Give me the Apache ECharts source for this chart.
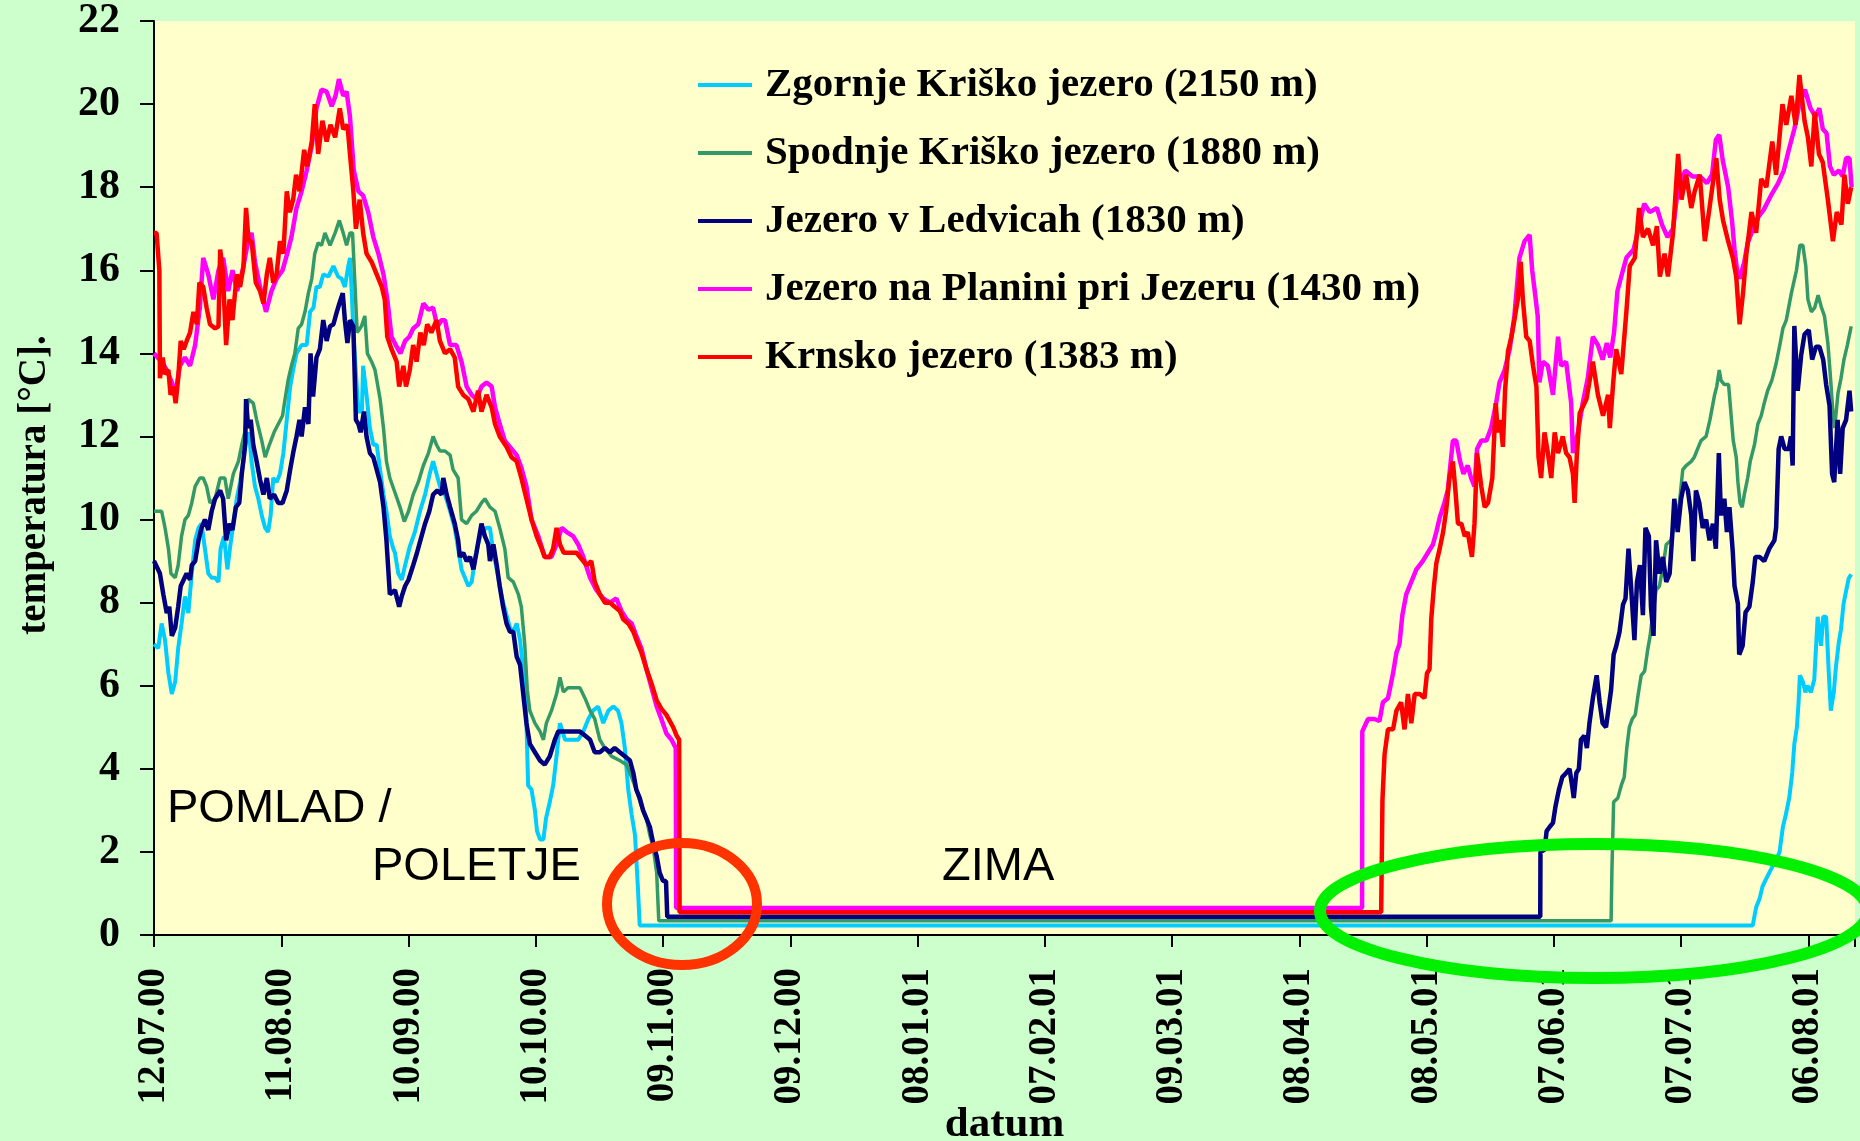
<!DOCTYPE html>
<html>
<head>
<meta charset="utf-8">
<title>Temperatura jezer</title>
<script src="https://cdn.jsdelivr.net/npm/echarts@6/dist/echarts.min.js"></script>
<style>
  html, body { margin: 0; padding: 0; background: #ccffcc; }
  #chart { width: 1860px; height: 1141px; }
</style>
</head>
<body>
<div id="chart"></div>
<script>
// x = dni od 12.07.2000, y = temperatura v °C (odčitano z grafa)
const tickLabels = ['12.07.00', '11.08.00', '10.09.00', '10.10.00', '09.11.00', '09.12.00', '08.01.01',
  '07.02.01', '09.03.01', '08.04.01', '08.05.01', '07.06.01', '07.07.01', '06.08.01'];

const seriesNames = ['Zgornje Kriško jezero (2150 m)', 'Spodnje Kriško jezero (1880 m)',
  'Jezero v Ledvicah (1830 m)', 'Jezero na Planini pri Jezeru (1430 m)', 'Krnsko jezero (1383 m)'];
const seriesColors = ['#00ccff', '#339966', '#000080', '#ff00ff', '#ff0000'];

const zgornje = [[0,7.0],[1.0,6.9],[1.8,7.5],[2.6,7.1],[3.4,6.3],[4.2,5.8],[5.0,6.1],[5.7,6.9],[6.5,7.5],[7.3,8.15],
  [8.1,7.75],[8.9,8.7],[9.7,9.5],[10.5,9.8],[11.2,9.9],[12.0,9.3],[12.8,8.7],[13.6,8.6],[14.4,8.6],[15.2,8.5],
  [15.7,9.3],[16.5,9.6],[17.3,8.8],[17.9,9.3],[18.7,9.9],[19.5,10.5],[20.3,10.9],[21.1,11.4],[21.5,11.8],[22.4,12.1],
  [23.0,11.4],[23.8,10.8],[24.6,10.5],[25.4,10.1],[26.2,9.8],[26.9,9.7],[27.5,10.1],[28.1,11.0],[28.9,10.9],[29.7,11.1],
  [30.5,11.6],[31.3,12.4],[32.1,13.2],[32.8,13.6],[33.6,14.0],[34.8,14.2],[36.0,14.2],[36.8,15.0],[37.6,15.1],[38.3,15.6],
  [39.1,15.6],[39.9,15.9],[41.1,15.85],[42.3,16.1],[43.4,15.85],[44.2,15.8],[45.0,15.6],[45.8,16.1],[46.2,16.3],[46.6,15.5],
  [47.1,14.3],[48.2,12.6],[49.0,12.6],[49.3,13.7],[50.1,13.0],[50.9,12.2],[51.7,11.8],[52.5,11.8],[53.3,11.2],[54.1,10.6],
  [54.8,10.2],[55.6,9.6],[56.4,9.3],[56.8,9.2],[57.6,8.7],[58.4,8.55],[59.2,8.9],[60.3,9.35],[61.5,9.7],[62.7,10.2],
  [63.9,10.6],[65.0,11.1],[65.8,11.4],[66.6,11.1],[67.4,10.8],[68.6,10.6],[69.8,10.2],[70.9,9.8],[71.7,9.3],[72.5,8.8],
  [73.3,8.6],[74.1,8.4],[74.9,8.5],[75.6,9.0],[76.4,9.4],[77.2,9.7],[78.4,9.8],[79.2,9.8],[80.0,9.2],[80.8,8.8],
  [81.5,8.4],[82.3,8.0],[83.1,7.7],[83.9,7.4],[84.7,7.3],[85.5,7.5],[86.3,7.1],[87.0,6.4],[87.7,5.5],[88.2,3.6],
  [89.0,3.5],[89.8,3.0],[90.3,2.5],[91.0,2.3],[91.8,2.3],[92.4,2.8],[93.3,3.2],[94.1,3.6],[94.9,4.3],[95.7,5.1],
  [96.9,4.7],[98.4,4.7],[100.0,4.7],[101.2,4.9],[102.4,5.2],[103.5,5.4],[104.7,5.5],[105.9,5.1],[107.1,5.4],[108.3,5.5],
  [109.4,5.4],[110.2,5.1],[111.0,4.5],[111.8,3.5],[112.6,2.9],[113.4,2.4],[114.1,1.1],[114.5,0.23],[376.9,0.23],[377.7,0.67],
  [378.5,0.87],[379.2,1.17],[380.2,1.38],[381.2,1.58],[382.2,1.78],[383.2,1.99],[384.0,2.6],[384.7,2.9],[385.5,3.3],[386.2,3.9],
  [386.7,4.6],[387.3,5.0],[387.7,5.6],[388.0,6.25],[388.7,6.1],[389.3,5.84],[389.8,6.0],[390.6,5.84],[391.4,6.15],[392.2,7.66],
  [393.0,6.96],[393.5,7.66],[394.2,7.66],[394.8,6.35],[395.3,5.4],[396.0,5.84],[396.5,6.45],[397.2,7.06],[397.7,7.36],[398.3,7.97],
  [398.9,8.28],[399.5,8.58],[400.1,8.68]];

const spodnje = [[0,10.2],[1.8,10.2],[2.6,9.8],[3.4,9.3],[4.0,8.7],[5.0,8.6],[5.7,8.9],[6.5,9.6],[7.3,10.0],[8.1,10.1],
  [8.9,10.4],[9.7,10.8],[10.8,11.0],[11.6,11.0],[12.4,10.8],[13.2,10.4],[14.4,10.5],[15.6,11.0],[16.7,11.0],[17.5,10.5],
  [18.7,11.1],[19.9,11.4],[20.7,11.8],[21.4,12.1],[22.2,12.9],[23.4,12.8],[24.2,12.4],[25.4,11.9],[26.2,11.5],[27.2,11.8],
  [28.3,12.1],[29.3,12.3],[30.3,12.5],[30.9,12.9],[31.7,13.4],[32.4,13.7],[33.2,14.0],[34.0,14.6],[34.8,14.7],[35.6,15.0],
  [36.4,15.45],[37.2,15.8],[37.9,16.4],[38.7,16.66],[39.5,16.6],[40.3,16.9],[41.5,16.6],[42.7,16.9],[43.7,17.2],[44.6,16.9],
  [45.4,16.6],[46.2,16.9],[46.8,16.9],[47.4,15.6],[47.9,14.5],[48.9,14.65],[49.7,14.9],[50.3,14.0],[51.3,13.8],[52.1,13.6],
  [53.3,12.9],[54.1,12.2],[54.8,11.4],[55.6,11.0],[56.8,10.65],[58.0,10.3],[59.0,9.95],[60.0,10.2],[61.1,10.6],[62.3,10.9],
  [63.5,11.3],[64.7,11.6],[65.8,12.0],[66.6,11.8],[67.4,11.65],[68.6,11.65],[69.8,11.55],[70.5,11.2],[71.7,11.0],[72.5,10.0],
  [73.7,9.9],[74.9,10.1],[76.0,10.2],[77.2,10.4],[78.0,10.5],[79.2,10.3],[80.4,10.2],[81.5,9.8],[82.7,9.3],[83.5,8.6],
  [84.7,8.5],[85.9,8.2],[86.6,7.9],[87.4,7.0],[88.0,5.9],[88.6,5.4],[89.8,5.1],[91.0,4.9],[91.8,4.7],[92.5,5.1],
  [93.7,5.4],[94.9,5.8],[95.7,6.2],[96.5,5.85],[97.6,5.95],[98.8,5.95],[100.4,5.95],[101.6,5.7],[102.8,5.4],[103.9,5.2],
  [105.1,4.7],[106.3,4.5],[107.9,4.3],[109.8,4.2],[111.4,4.1],[112.6,3.8],[113.7,3.5],[114.9,3.1],[116.1,2.8],[116.9,2.4],
  [117.7,2.1],[118.5,1.5],[119.0,0.34],[343.5,0.34],[343.7,1.58],[344.1,3.2],[345.1,3.3],[345.9,3.6],[346.6,3.8],[347.2,4.5],
  [347.8,5.0],[348.5,5.2],[349.2,5.3],[349.9,5.8],[350.6,6.25],[351.4,6.35],[352.1,6.85],[352.7,7.2],[353.3,7.7],[354.1,8.3],
  [354.9,8.4],[355.8,8.9],[356.5,9.4],[357.6,9.5],[358.7,10.0],[359.6,10.4],[360.4,11.2],[361.2,11.3],[362.4,11.4],[363.1,11.5],
  [363.9,11.7],[364.7,11.9],[365.9,12.0],[366.8,12.4],[367.9,13.0],[368.4,13.2],[369.0,13.6],[369.4,13.35],[370.2,13.25],[371.2,13.25],
  [371.8,12.5],[372.3,11.9],[373.0,11.5],[373.4,10.9],[373.9,10.4],[374.4,10.3],[374.9,10.6],[375.7,11.0],[376.3,11.4],[377.3,11.8],
  [378.1,12.3],[378.9,12.5],[379.6,12.8],[380.4,13.1],[381.4,13.35],[382.4,13.75],[383.2,14.16],[384.0,14.6],[384.8,14.8],[386.0,15.45],
  [387.2,16.0],[388.0,16.6],[388.7,16.6],[389.4,16.1],[389.9,15.3],[390.7,15.0],[391.5,15.1],[392.3,15.4],[393.1,15.1],[393.8,14.9],
  [394.6,14.25],[395.2,13.45],[395.8,12.56],[396.2,12.2],[397.0,13.05],[397.7,13.4],[398.4,13.85],[399.2,14.2],[400.1,14.65]];

const ledvice = [[0,9.0],[1.4,8.7],[2.2,8.2],[3.0,7.75],[3.6,7.9],[4.2,7.2],[5.0,7.4],[5.7,7.9],[6.3,8.4],[7.0,8.55],
  [7.7,8.7],[8.5,8.55],[8.9,8.9],[9.7,9.0],[10.5,9.5],[11.2,9.8],[12.0,10.0],[12.8,9.75],[13.6,10.2],[14.4,10.5],
  [15.6,10.7],[16.3,10.5],[17.0,9.5],[17.8,9.9],[18.5,9.75],[19.3,10.3],[20.1,10.4],[20.7,11.1],[21.5,11.8],[21.7,12.9],
  [22.2,12.2],[22.8,12.4],[23.4,11.8],[24.2,11.4],[25.0,10.96],[25.8,10.6],[26.6,11.0],[27.3,10.5],[28.3,10.6],[29.3,10.4],
  [30.3,10.4],[31.3,10.7],[32.1,11.2],[32.8,11.6],[33.6,12.0],[34.3,12.4],[34.8,12.0],[35.6,12.7],[36.4,12.3],[36.9,14.0],
  [37.5,12.96],[38.3,13.9],[39.1,14.1],[39.9,14.8],[40.7,14.3],[41.5,14.65],[42.3,14.7],[43.1,15.0],[43.7,15.2],[44.5,15.45],
  [45.0,14.8],[45.6,14.25],[46.2,14.8],[47.0,14.65],[47.6,12.4],[48.2,12.3],[48.7,12.1],[49.5,12.6],[50.1,12.0],[50.9,11.6],
  [51.7,11.5],[52.5,11.2],[53.3,10.9],[54.1,10.3],[54.8,9.5],[55.6,8.2],[56.8,8.3],[57.8,7.9],[58.4,8.15],[59.2,8.4],
  [60.0,8.55],[61.1,8.9],[62.0,9.2],[62.8,9.5],[63.9,9.9],[64.9,10.2],[65.8,10.6],[66.8,10.7],[67.8,10.6],[68.2,11.0],
  [69.0,10.6],[69.8,10.3],[70.9,9.9],[71.7,9.5],[72.1,9.1],[72.9,9.2],[73.7,9.0],[74.5,9.1],[75.3,8.8],[76.0,9.2],
  [77.2,9.9],[78.0,9.6],[78.8,9.4],[79.2,9.0],[80.0,9.4],[80.8,8.9],[81.5,8.4],[82.3,7.9],[83.1,7.5],[83.9,7.3],
  [84.7,7.3],[85.5,6.7],[86.3,6.5],[87.0,5.85],[87.8,5.1],[88.6,4.6],[89.8,4.4],[91.0,4.2],[92.1,4.1],[93.3,4.3],
  [94.5,4.7],[95.3,4.9],[96.5,4.9],[97.6,4.9],[98.8,4.9],[100.4,4.9],[101.6,4.8],[102.8,4.7],[103.9,4.4],[105.1,4.4],
  [106.3,4.5],[107.5,4.4],[108.6,4.5],[109.8,4.4],[111.0,4.3],[112.2,4.2],[113.0,3.9],[113.7,3.5],[114.5,3.3],[115.3,3.0],
  [116.1,2.8],[116.9,2.6],[117.7,2.2],[118.5,1.9],[119.2,1.5],[120.0,1.3],[120.7,1.3],[121.0,0.44],[326.8,0.44],[326.85,2.0],
  [327.8,2.05],[328.3,2.5],[329.0,2.6],[329.8,2.7],[330.4,3.1],[331.2,3.5],[332.0,3.8],[332.9,3.9],[333.7,4.0],[334.3,3.6],
  [334.7,3.3],[335.3,3.9],[335.9,4.0],[336.4,4.7],[337.2,4.8],[337.8,4.5],[338.4,5.1],[339.2,5.7],[340.1,6.25],[340.8,5.6],
  [341.5,5.1],[342.3,5.0],[343.1,5.6],[343.5,5.9],[344.1,6.75],[344.7,6.95],[345.5,7.3],[346.3,7.95],[346.9,8.1],[347.6,9.3],
  [348.2,8.4],[349.0,7.1],[349.6,8.5],[350.3,8.9],[351.0,7.7],[351.6,9.8],[352.4,9.6],[352.9,7.9],[353.5,7.2],[354.1,9.5],
  [354.9,8.7],[355.7,9.1],[356.5,8.5],[357.3,8.7],[357.9,9.6],[358.4,10.5],[359.2,9.7],[360.0,10.5],[360.8,10.9],[361.6,10.7],
  [362.4,10.1],[362.9,9.0],[363.5,10.7],[364.3,10.4],[365.1,9.8],[365.9,10.0],[366.7,9.5],[367.5,9.9],[368.2,9.3],[368.9,11.6],
  [369.4,10.1],[370.2,10.5],[370.8,9.7],[371.4,10.3],[372.2,9.2],[372.6,8.4],[373.4,7.97],[373.7,6.75],[374.5,6.96],[375.2,7.77],
  [376.1,7.9],[376.9,8.5],[377.5,9.1],[378.5,9.1],[379.6,9.0],[380.8,9.3],[382.0,9.5],[382.4,9.8],[383.0,11.7],[383.6,12.0],
  [384.4,11.7],[385.4,11.7],[385.9,12.0],[386.3,11.3],[386.7,14.66],[387.5,13.1],[388.3,13.95],[389.1,14.46],[390.1,14.56],[390.9,13.85],
  [391.8,14.16],[392.6,14.16],[393.5,13.85],[394.2,13.25],[395.0,12.74],[395.6,11.1],[396.1,10.9],[396.9,12.4],[397.5,11.1],[398.1,12.2],
  [398.9,12.4],[399.7,13.1],[400.1,12.6]];

const planina = [[0,14.0],[1.8,13.8],[3.0,13.6],[4.2,13.3],[5.0,13.0],[6.1,13.7],[7.3,13.9],[8.5,13.7],[9.7,14.2],[10.8,15.1],
  [11.6,16.3],[12.8,15.9],[14.0,15.3],[15.2,16.0],[16.3,16.3],[17.5,15.5],[18.5,16.0],[19.6,15.5],[20.9,16.0],[22.0,16.6],
  [23.0,16.9],[23.8,16.2],[25.0,15.6],[26.4,15.0],[27.7,15.5],[28.9,15.8],[30.3,16.0],[31.4,16.4],[32.4,16.8],[33.6,17.5],
  [34.8,17.9],[36.0,18.4],[37.2,19.0],[38.3,19.9],[39.5,20.35],[40.7,20.3],[41.9,19.95],[42.8,20.2],[43.6,20.6],[44.6,20.2],
  [45.4,20.3],[46.2,19.7],[47.1,18.4],[48.2,17.9],[49.3,17.8],[50.5,17.4],[51.7,16.8],[52.9,16.4],[54.1,15.9],[55.0,15.3],
  [56.0,14.4],[57.0,14.2],[58.1,14.0],[59.2,14.3],[60.2,14.4],[61.1,14.6],[62.3,14.7],[63.5,15.2],[64.7,15.05],[65.8,15.1],
  [66.8,14.65],[67.8,14.8],[68.6,14.8],[69.8,14.2],[71.3,14.2],[72.5,13.8],[73.7,13.2],[74.9,13.0],[76.0,12.9],[77.2,13.2],
  [78.4,13.3],[79.6,13.2],[80.4,12.7],[81.5,12.3],[82.7,11.9],[83.9,11.75],[85.5,11.55],[86.6,11.25],[87.8,10.8],[89.0,10.0],
  [90.6,9.6],[92.1,9.1],[93.7,9.1],[94.9,9.4],[96.1,9.8],[97.3,9.7],[98.8,9.6],[100.0,9.4],[101.2,9.1],[102.8,8.6],
  [104.3,8.3],[105.9,8.1],[107.5,8.0],[109.0,8.1],[110.2,7.8],[111.4,7.6],[112.6,7.5],[113.7,7.2],[114.9,6.9],[116.1,6.4],
  [117.3,5.95],[118.5,5.5],[119.6,5.2],[120.8,4.85],[122.0,4.7],[123.0,4.5],[123.1,0.65],[284.8,0.65],[284.85,4.9],[286.2,5.2],
  [287.7,5.2],[288.9,5.15],[289.7,5.6],[290.9,5.7],[292.1,6.3],[292.9,6.8],[293.6,7.0],[294.3,7.7],[295.2,8.2],[296.4,8.5],
  [297.6,8.8],[299.1,9.0],[300.3,9.2],[301.5,9.4],[302.3,9.7],[303.1,10.05],[304.2,10.4],[305.0,10.7],[306.2,11.9],[307.0,11.9],
  [307.9,11.4],[308.7,11.1],[309.7,11.3],[310.5,11.0],[311.3,10.8],[311.9,11.7],[312.9,11.9],[314.1,11.9],[315.2,12.2],[316.4,12.8],
  [317.2,13.3],[318.4,13.6],[319.6,14.1],[320.7,14.9],[321.9,16.3],[323.1,16.7],[324.3,16.85],[324.9,16.0],[325.5,15.5],[326.2,14.9],
  [326.6,13.3],[327.4,13.8],[328.6,13.7],[329.8,13.0],[331.0,14.4],[331.7,13.7],[332.9,13.8],[334.1,12.8],[334.5,11.6],[335.7,12.1],
  [336.8,12.8],[338.0,13.4],[339.2,14.4],[340.4,14.2],[341.5,13.85],[342.5,14.25],[343.3,13.9],[344.2,14.5],[345.0,15.5],[345.9,15.85],
  [347.1,16.3],[348.8,16.5],[350.1,17.06],[351.3,17.6],[352.6,17.4],[354.3,17.5],[355.5,17.1],[356.8,16.8],[358.1,17.0],[359.3,18.0],
  [361.0,18.4],[362.7,18.26],[364.4,18.26],[366.1,18.1],[367.3,18.3],[368.2,19.14],[369.0,19.26],[369.8,18.66],[371.1,18.0],[372.0,17.2],
  [372.6,16.5],[373.2,16.0],[373.8,15.8],[374.9,16.2],[375.7,16.66],[377.0,17.0],[378.3,17.3],[379.5,17.46],[381.2,17.8],[382.9,18.1],
  [384.2,18.4],[385.4,18.9],[386.7,19.4],[387.9,20.0],[389.2,20.35],[390.5,19.9],[391.7,19.7],[392.6,19.9],[393.4,19.4],[394.3,19.3],
  [395.1,18.5],[396.0,18.3],[397.2,18.4],[398.1,18.26],[398.9,18.7],[399.7,18.7],[400.2,18.0]];

const krnsko = [[0,16.9],[0.6,16.9],[1.26,16.0],[1.4,13.4],[2.05,13.9],[2.6,13.5],[3.4,13.6],[3.9,13.0],[4.6,13.2],[5.1,12.8],
  [5.7,13.4],[6.3,14.3],[7.0,14.1],[7.7,14.3],[8.5,14.5],[9.3,15.0],[10.1,14.7],[10.7,15.7],[11.6,15.6],[12.4,15.1],
  [13.2,14.7],[14.4,14.6],[15.2,14.65],[15.6,16.5],[16.2,16.0],[17.0,14.2],[17.8,15.3],[18.5,14.8],[19.5,15.9],[20.3,15.6],
  [21.1,16.1],[21.7,17.5],[22.3,16.7],[23.0,16.7],[24.0,15.7],[25.0,15.5],[25.8,15.2],[26.6,15.9],[27.3,16.3],[28.1,15.7],
  [28.9,15.9],[29.7,16.7],[30.5,16.4],[31.3,17.9],[32.0,17.4],[32.8,17.7],[33.5,18.3],[34.3,17.9],[35.4,18.9],[36.1,18.5],
  [37.2,19.1],[37.9,20.0],[38.7,18.8],[39.7,19.6],[40.7,19.1],[41.6,19.5],[42.7,19.2],[43.8,19.9],[44.6,19.4],[45.6,19.5],
  [46.2,18.8],[47.0,17.9],[47.6,17.0],[48.5,17.7],[49.3,16.9],[50.1,16.4],[51.3,16.2],[52.5,15.9],[53.7,15.6],[54.4,15.3],
  [55.0,14.4],[56.0,14.1],[57.2,13.8],[57.8,13.2],[58.8,13.7],[59.4,13.2],[60.3,13.6],[61.1,14.2],[61.9,13.8],[62.8,14.5],
  [63.6,14.2],[64.4,14.7],[65.4,14.5],[66.6,14.8],[67.4,14.3],[68.6,14.0],[69.8,14.1],[70.9,13.9],[71.7,13.2],[72.9,13.0],
  [74.1,12.9],[75.3,12.6],[76.4,13.1],[77.2,12.6],[78.4,13.0],[79.6,12.7],[80.4,12.3],[81.5,12.0],[83.1,11.75],[84.3,11.5],
  [85.5,11.4],[86.6,11.0],[87.8,10.5],[89.0,10.0],[90.2,9.6],[91.4,9.3],[92.1,9.1],[93.3,9.1],[94.1,9.3],[94.9,9.8],
  [95.7,9.4],[96.6,9.2],[98.0,9.2],[99.6,9.2],[100.8,9.05],[102.0,8.9],[103.1,9.0],[103.9,8.5],[105.1,8.2],[106.3,8.0],
  [107.5,8.0],[108.6,7.9],[109.8,7.8],[110.6,7.6],[111.8,7.5],[113.0,7.3],[114.1,7.0],[114.9,6.8],[116.1,6.4],[117.3,6.05],
  [118.5,5.65],[119.6,5.45],[120.8,5.3],[122.4,5.0],[123.2,4.8],[123.8,4.7],[123.9,0.55],[289.3,0.55],[289.6,3.25],[290.1,4.35],
  [290.9,4.95],[292.1,4.95],[292.9,5.4],[294.0,5.6],[294.8,4.95],[295.6,5.8],[296.4,5.1],[297.2,5.8],[298.4,5.8],[299.5,5.7],
  [300.1,6.3],[300.7,6.4],[301.1,7.6],[301.7,8.35],[302.3,8.95],[303.1,9.3],[303.9,9.7],[304.6,10.2],[305.4,11.0],[306.2,11.4],
  [306.8,10.7],[307.4,9.9],[308.2,9.9],[309.0,9.6],[309.7,9.7],[310.7,9.1],[311.3,9.9],[311.9,11.6],[312.9,10.8],[313.7,10.3],
  [314.5,10.4],[315.5,11.0],[316.3,12.8],[316.8,12.1],[317.4,12.4],[318.0,11.75],[318.5,13.1],[319.2,14.05],[320.0,14.4],[320.7,14.8],
  [321.5,15.3],[322.2,16.2],[322.7,15.3],[323.5,14.4],[324.3,14.3],[325.1,13.7],[325.9,13.2],[326.4,11.5],[327.0,11.0],[327.8,12.1],
  [328.6,11.6],[329.4,11.0],[330.2,12.1],[331.0,11.6],[332.1,12.0],[332.9,11.6],[333.7,11.5],[334.5,11.1],[334.9,10.4],[335.4,11.5],
  [336.1,12.56],[337.7,12.9],[339.2,13.8],[340.4,13.0],[341.6,12.5],[342.8,13.0],[343.2,12.2],[344.0,13.3],[344.7,14.1],[345.9,13.5],
  [347.1,15.0],[347.9,16.1],[349.1,16.3],[350.1,17.5],[351.0,16.8],[352.2,17.0],[353.4,16.6],[354.3,17.06],[355.0,15.85],[356.1,16.4],
  [356.9,15.85],[358.1,16.9],[359.3,18.8],[360.1,17.7],[361.2,18.3],[362.4,17.5],[363.2,17.9],[364.4,18.3],[365.6,16.7],[366.7,17.5],
  [368.3,18.7],[369.1,17.7],[369.9,17.2],[371.1,16.7],[372.2,16.3],[373.0,15.85],[373.8,14.7],[374.6,15.45],[375.4,16.4],[376.6,17.4],
  [377.7,16.9],[378.9,18.2],[380.1,18.0],[381.5,19.1],[382.4,18.3],[383.9,20.0],[384.8,19.5],[386.0,20.2],[387.0,19.5],[387.9,20.7],
  [389.1,19.6],[389.9,19.2],[390.7,18.5],[391.5,19.8],[392.5,18.8],[393.4,18.6],[394.6,17.7],[395.8,16.7],[396.7,17.4],[397.8,17.1],
  [398.5,18.3],[399.3,17.6],[400.1,18.0]];

const seriesData = [zgornje, spodnje, ledvice, planina, krnsko];
const lineWidths = [4, 3.5, 4.5, 4.5, 4.5];

const chart = echarts.init(document.getElementById('chart'), null, { renderer: 'canvas' });

const serif = 'Liberation Serif, Times New Roman, serif';
const sans = 'Liberation Sans, Arial, sans-serif';

const option = {
  backgroundColor: '#ccffcc',
  animation: false,
  color: seriesColors,
  grid: {
    left: 154,
    right: 5,
    top: 21,
    bottom: 206,
    containLabel: false,
    outerBoundsMode: 'none',
    show: true,
    backgroundColor: '#ffffcc',
    borderWidth: 0
  },
  legend: {
    orient: 'vertical',
    left: 698,
    top: 64,
    padding: 0,
    itemWidth: 54,
    itemHeight: 4,
    itemGap: 26,
    icon: 'rect',
    selectedMode: false,
    data: seriesNames,
    textStyle: {
      fontFamily: serif,
      fontWeight: 'bold',
      fontSize: 41,
      lineHeight: 42,
      color: '#000',
      padding: [0, 0, 0, 8]
    }
  },
  xAxis: {
    type: 'value',
    min: 0,
    max: 401,
    interval: 30,
    name: 'datum',
    nameLocation: 'middle',
    nameGap: 168,
    nameMoveOverlap: false,
    nameTextStyle: { fontFamily: serif, fontWeight: 'bold', fontSize: 43, color: '#000' },
    axisLine: { show: true, onZero: false, lineStyle: { color: '#000', width: 2 } },
    axisTick: { show: true, inside: false, length: 12, lineStyle: { color: '#000', width: 2 } },
    splitLine: { show: false },
    axisLabel: {
      rotate: 90,
      margin: 33,
      fontFamily: serif,
      fontWeight: 'bold',
      fontSize: 39,
      color: '#000',
      formatter: function (v) {
        if (v % 30 !== 0) return '';
        return tickLabels[v / 30] || '';
      }
    }
  },
  yAxis: {
    type: 'value',
    min: 0,
    max: 22,
    interval: 2,
    name: 'temperatura [°C].',
    nameLocation: 'middle',
    nameGap: 100,
    nameMoveOverlap: false,
    nameTextStyle: { fontFamily: serif, fontWeight: 'bold', fontSize: 39, color: '#000', padding: [0, 14, 0, 0] },
    axisLine: { show: true, lineStyle: { color: '#000', width: 2 } },
    axisTick: { show: true, inside: false, length: 14, lineStyle: { color: '#000', width: 2 } },
    splitLine: { show: false },
    axisLabel: {
      margin: 34,
      fontFamily: serif,
      fontWeight: 'bold',
      fontSize: 42,
      color: '#000'
    }
  },
  series: seriesNames.map(function (name, i) {
    return {
      name: name,
      type: 'line',
      data: seriesData[i],
      showSymbol: false,
      symbol: 'none',
      smooth: false,
      lineStyle: { width: lineWidths[i], color: seriesColors[i] },
      emphasis: { disabled: true }
    };
  }),
  graphic: [
    { type: 'text', left: 167, top: 786, z: 50,
      style: { text: 'POMLAD /', font: '47px ' + sans, fill: '#000' } },
    { type: 'text', left: 372, top: 844, z: 50,
      style: { text: 'POLETJE', font: '47px ' + sans, fill: '#000' } },
    { type: 'text', left: 942, top: 844, z: 50,
      style: { text: 'ZIMA', font: '47px ' + sans, fill: '#000' } },
    { type: 'ellipse', z: 100,
      shape: { cx: 682, cy: 904, rx: 75, ry: 61 },
      style: { fill: 'none', stroke: '#ff3300', lineWidth: 10 } },
    { type: 'ellipse', z: 100,
      shape: { cx: 1594, cy: 911, rx: 274, ry: 67 },
      style: { fill: 'none', stroke: '#00f000', lineWidth: 12 } }
  ]
};

chart.setOption(option);
</script>
</body>
</html>
